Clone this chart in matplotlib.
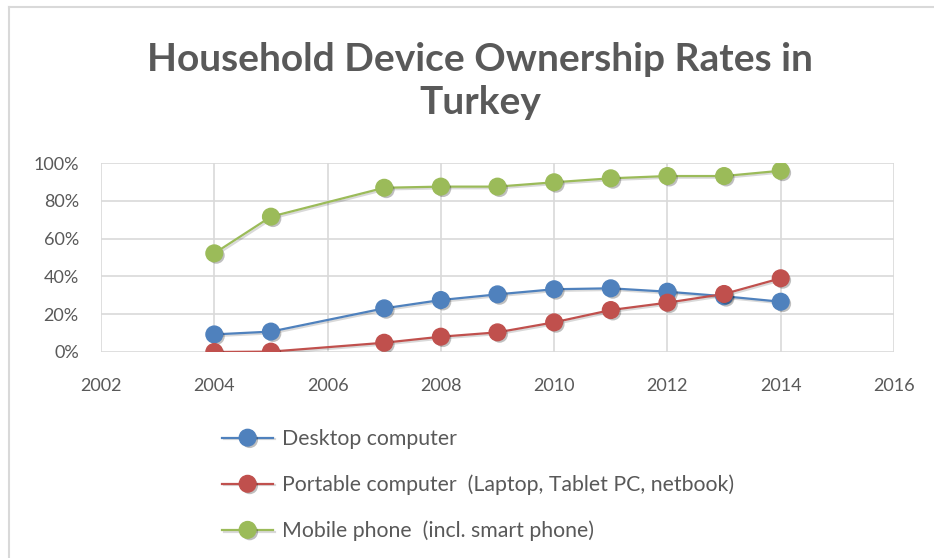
import matplotlib
matplotlib.use("Agg")
import matplotlib.pyplot as plt
import matplotlib.patheffects as pe
from matplotlib.ticker import FuncFormatter
from matplotlib.lines import Line2D

plt.rcParams['font.family'] = ['Lato', 'DejaVu Sans']

# data (share of households)
years = [2004, 2005, 2007, 2008, 2009, 2010, 2011, 2012, 2013, 2014]
desktop = [0.093, 0.108, 0.231, 0.275, 0.305, 0.332, 0.337, 0.319, 0.295, 0.266]
portable = [0.0, 0.002, 0.049, 0.081, 0.104, 0.157, 0.222, 0.261, 0.307, 0.390]
mobile = [0.522, 0.716, 0.869, 0.875, 0.875, 0.898, 0.919, 0.931, 0.931, 0.959]
labels = ["Desktop computer",
          "Portable computer  (Laptop, Tablet PC, netbook)",
          "Mobile phone  (incl. smart phone)"]
colors = ["#4F81BD", "#C0504D", "#9BBB59"]

W, H = 934, 558
fig = plt.figure(figsize=(W / 100, H / 100), dpi=100)
ax = fig.add_axes([101 / W, 1 - 352 / H, (894 - 101) / W, (352 - 163) / H])

handles = []
for vals, col in zip([desktop, portable, mobile], colors):
    ln, = ax.plot(years, vals, color=col, lw=1.6, zorder=3,
                  path_effects=[pe.SimpleLineShadow(offset=(1.2, -1.2), shadow_color='k', alpha=0.15), pe.Normal()])
    mk, = ax.plot(years, vals, ls='none', marker='o', ms=12, color=col, mec=col, zorder=4,
                  path_effects=[pe.SimplePatchShadow(offset=(1.5, -1.5), shadow_rgbFace='k', alpha=0.25), pe.Normal()])
    handles.append((ln, mk))

ax.set_xlim(2002, 2016)
ax.set_ylim(0, 1)
ax.set_xticks(range(2002, 2017, 2))
ax.set_yticks([0, 0.2, 0.4, 0.6, 0.8, 1.0])
ax.yaxis.set_major_formatter(FuncFormatter(lambda v, p: f"{v * 100:.0f}%"))
ax.grid(True, color="#D9D9D9", lw=1.2, zorder=0)
ax.set_axisbelow(True)
for s in ax.spines.values():
    s.set_visible(False)
ax.tick_params(length=0, labelsize=13, labelcolor="#595959")
ax.tick_params(axis='y', pad=16)
ax.tick_params(axis='x', pad=19)
for l in ax.get_xticklabels() + ax.get_yticklabels():
    l.set_clip_on(False)

fig.text(480 / W, 1 - 81 / H, "Household Device Ownership Rates in\nTurkey",
         ha='center', va='center', fontsize=28, fontweight='bold', color="#595959", linespacing=1.28)

leg = fig.legend(handles, labels, loc='upper left', bbox_to_anchor=(203 / W, 1 - 410 / H),
                 frameon=False, fontsize=15.3, handlelength=2.4, handletextpad=0.4,
                 labelspacing=1.2, numpoints=1, labelcolor="#595959")

# outer chart border (top and left visible)
fig.add_artist(Line2D([9 / W, 1], [1 - 7 / H, 1 - 7 / H], color="#D9D9D9", lw=1.5, transform=fig.transFigure))
fig.add_artist(Line2D([9 / W, 9 / W], [0, 1 - 7 / H], color="#D9D9D9", lw=1.5, transform=fig.transFigure))

fig.savefig("out.png", dpi=100)
